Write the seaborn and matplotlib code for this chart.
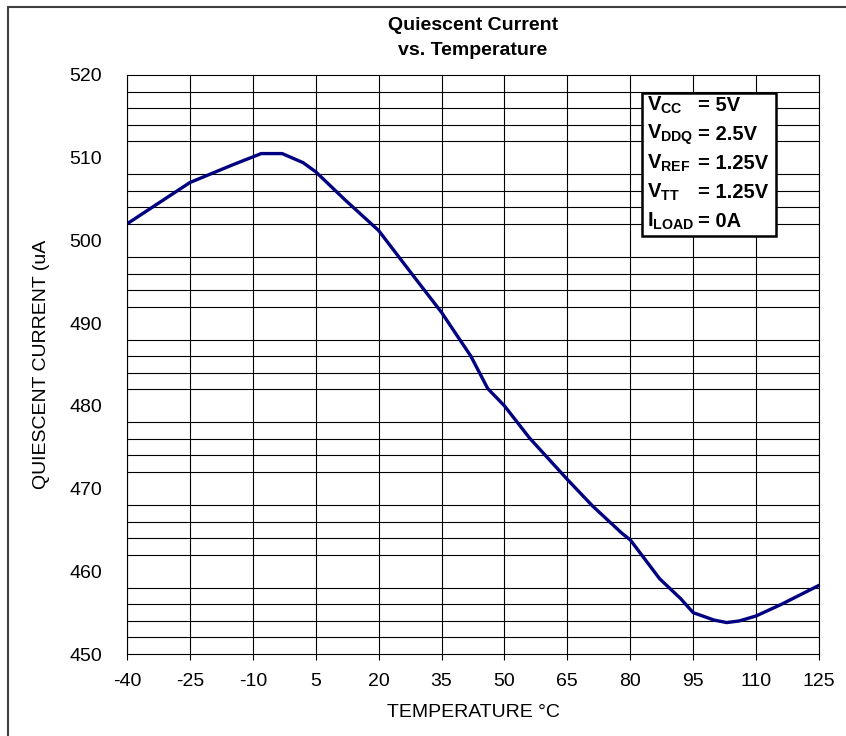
import numpy as np
import pandas as pd
import matplotlib.pyplot as plt
import seaborn as sns
from matplotlib.patches import Rectangle
from matplotlib.lines import Line2D

# values
temperature = [-40, -25, -15, -8, -3, 2, 5, 12, 20, 28, 35, 42, 46, 50,
               56, 65, 71, 78, 80, 87, 92, 95, 100, 103, 106, 110, 116, 125]
current = [502.0, 507.0, 509.1, 510.5, 510.5, 509.4, 508.3, 504.9, 501.2,
           495.9, 491.3, 486.0, 482.1, 480.0, 476.1, 471.1, 467.9, 464.6,
           463.8, 459.1, 456.7, 455.0, 454.1, 453.8, 454.0, 454.6, 456.0, 458.3]

x_ticks = list(range(-40, 126, 15))
y_ticks = [450, 460, 470, 480, 490, 500, 510, 520]

cond_names = [r'V$_{CC}$', r'V$_{DDQ}$', r'V$_{REF}$', r'V$_{TT}$', r'I$_{LOAD}$']
cond_values = ['= 5V', '= 2.5V', '= 1.25V', '= 1.25V', '= 0A']

df = pd.DataFrame({'temp': temperature, 'iq': current})

sns.set_theme(style='white')
plt.rcParams['font.family'] = ['Liberation Sans', 'DejaVu Sans']
plt.rcParams['mathtext.fontset'] = 'custom'
plt.rcParams['mathtext.rm'] = 'Liberation Sans:bold'
plt.rcParams['mathtext.it'] = 'Liberation Sans:bold'
plt.rcParams['mathtext.default'] = 'rm'
for k in ['text.color', 'axes.labelcolor', 'xtick.color', 'ytick.color']:
    plt.rcParams[k] = 'black'

fig = plt.figure(figsize=(8.46, 7.36), dpi=100)
ax = fig.add_axes([0.1501, 0.1114, 0.818, 0.7867])

sns.lineplot(data=df, x='temp', y='iq', ax=ax, color='#000080', linewidth=2.4)

ax.set_xlim(-40, 125)
ax.set_ylim(450, 520)
ax.set_xticks(x_ticks)
ax.set_xticklabels([str(t) for t in x_ticks])
ax.set_yticks(y_ticks)
ax.set_yticklabels([str(v) for v in y_ticks])
ax.set_yticks(np.arange(450, 521, 2), minor=True)

ax.grid(True, which='major', axis='x', color='black', linewidth=0.8)
ax.grid(True, which='minor', axis='y', color='black', linewidth=0.8)
ax.tick_params(axis='x', which='major', direction='out', length=4, width=0.8,
               color='black', labelsize=14, pad=10, bottom=True)
ax.tick_params(axis='y', which='both', length=0, labelsize=14, pad=18)
for s in ax.spines.values():
    s.set_color('black')
    s.set_linewidth(0.8)

ax.set_xlabel('TEMPERATURE °C', fontsize=14, labelpad=10)
ax.set_ylabel('QUIESCENT CURRENT (uA', fontsize=14, labelpad=14)

# conditions box
ax.add_patch(Rectangle((0.744, 0.7225), 0.194, 0.2465, transform=ax.transAxes,
                       facecolor='white', edgecolor='black', linewidth=1.8, zorder=5))
for i, (n, v) in enumerate(zip(cond_names, cond_values)):
    yy = 0.947 - i * 0.0501
    ax.text(0.751, yy, n, transform=ax.transAxes, fontsize=14.5, fontweight='bold',
            va='center', ha='left', zorder=6)
    ax.text(0.825, yy, v, transform=ax.transAxes, fontsize=14.5, fontweight='bold',
            va='center', ha='left', zorder=6)

fig.text(0.559, 0.948, 'Quiescent Current\nvs. Temperature', fontsize=14,
         fontweight='bold', ha='center', va='center', linespacing=1.6)

# outer frame (left and top edges visible)
fig.add_artist(Line2D([0.0098, 0.0098], [0.0, 0.9909], transform=fig.transFigure,
                      color='#404040', linewidth=1.5))
fig.add_artist(Line2D([0.0098, 1.0], [0.9909, 0.9909], transform=fig.transFigure,
                      color='#404040', linewidth=1.5))

fig.savefig('out.png', dpi=100)
